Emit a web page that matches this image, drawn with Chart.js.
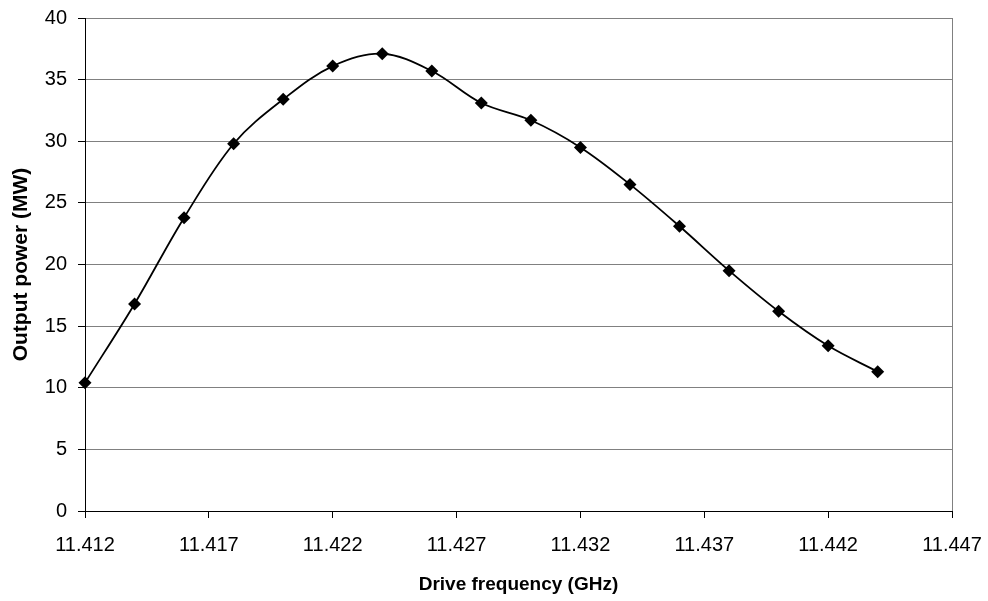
<!DOCTYPE html>
<html>
<head>
<meta charset="utf-8">
<script src="https://cdn.jsdelivr.net/npm/chart.js@4/dist/chart.umd.min.js"></script>
<style>
  html, body { margin: 0; padding: 0; background: #fff; }
  #wrap { width: 988px; height: 601px; position: relative; }
</style>
</head>
<body>
<div id="wrap"><canvas id="chart"></canvas></div>
<script>
// drive frequency sweep, output power
const freqGHz = [11.412, 11.414, 11.416, 11.418, 11.420, 11.422, 11.424, 11.426, 11.428,
                 11.430, 11.432, 11.434, 11.436, 11.438, 11.440, 11.442, 11.444];
const powerMW = [10.4, 16.8, 23.8, 29.8, 33.4, 36.1, 37.1, 35.7, 33.1,
                 31.7, 29.5, 26.5, 23.1, 19.5, 16.2, 13.4, 11.3];
const xTicks = [11.412, 11.417, 11.422, 11.427, 11.432, 11.437, 11.442, 11.447];
const yTicks = [0, 5, 10, 15, 20, 25, 30, 35, 40];

const FONT = 'Liberation Sans, Arial, sans-serif';
const GRID = '#808080';

const points = freqGHz.map((f, i) => ({ x: f, y: powerMW[i] }));

new Chart(document.getElementById('chart'), {
  type: 'line',
  data: {
    datasets: [{
      data: points,
      borderColor: '#000',
      backgroundColor: '#000',
      borderWidth: 1.8,
      tension: 0.35,
      pointStyle: 'rectRot',
      pointRadius: 6.5,
      pointBorderWidth: 0,
      fill: false,
      clip: false,
    }]
  },
  options: {
    responsive: true, maintainAspectRatio: false,
    animation: false,
    layout: { padding: { left: 0, top: 18, right: 36, bottom: 0 } },
    plugins: { legend: { display: false }, tooltip: { enabled: false } },
    scales: {
      x: {
        type: 'linear',
        min: xTicks[0], max: xTicks[xTicks.length - 1],
        afterBuildTicks: s => { s.ticks = xTicks.map(v => ({ value: v })); },
        // fixed axis box, no extra room for the end labels
        afterFit: s => { s.height = 90; s.paddingLeft = 0; s.paddingRight = 0; },
        ticks: {
          color: '#000', padding: 15, maxRotation: 0, autoSkip: false,
          font: { family: FONT, size: 20 },
          callback: v => Number(v).toFixed(3),
        },
        grid: {
          color: c => c.index === xTicks.length - 1 ? GRID : 'rgba(0,0,0,0)',
          tickColor: '#000', tickLength: 7, lineWidth: 1,
        },
        border: { color: '#000', width: 1 },
        title: {
          display: true, text: 'Drive frequency (GHz)', color: '#000',
          font: { family: FONT, size: 19, weight: 'bold' },
          padding: { top: 0, bottom: 5 },
        },
      },
      y: {
        min: yTicks[0], max: yTicks[yTicks.length - 1],
        afterBuildTicks: s => { s.ticks = yTicks.map(v => ({ value: v })); },
        afterFit: s => { s.width = 85; s.paddingTop = 0; s.paddingBottom = 0; },
        ticks: {
          color: '#000', padding: 11,
          font: { family: FONT, size: 20 },
        },
        grid: { color: GRID, tickColor: '#000', tickLength: 7, lineWidth: 1 },
        border: { color: '#000', width: 1 },
        title: {
          display: true, text: 'Output power (MW)', color: '#000',
          font: { family: FONT, size: 21, weight: 'bold' },
          padding: { top: 9, bottom: 0 },
        },
      }
    }
  }
});
</script>
</body>
</html>
